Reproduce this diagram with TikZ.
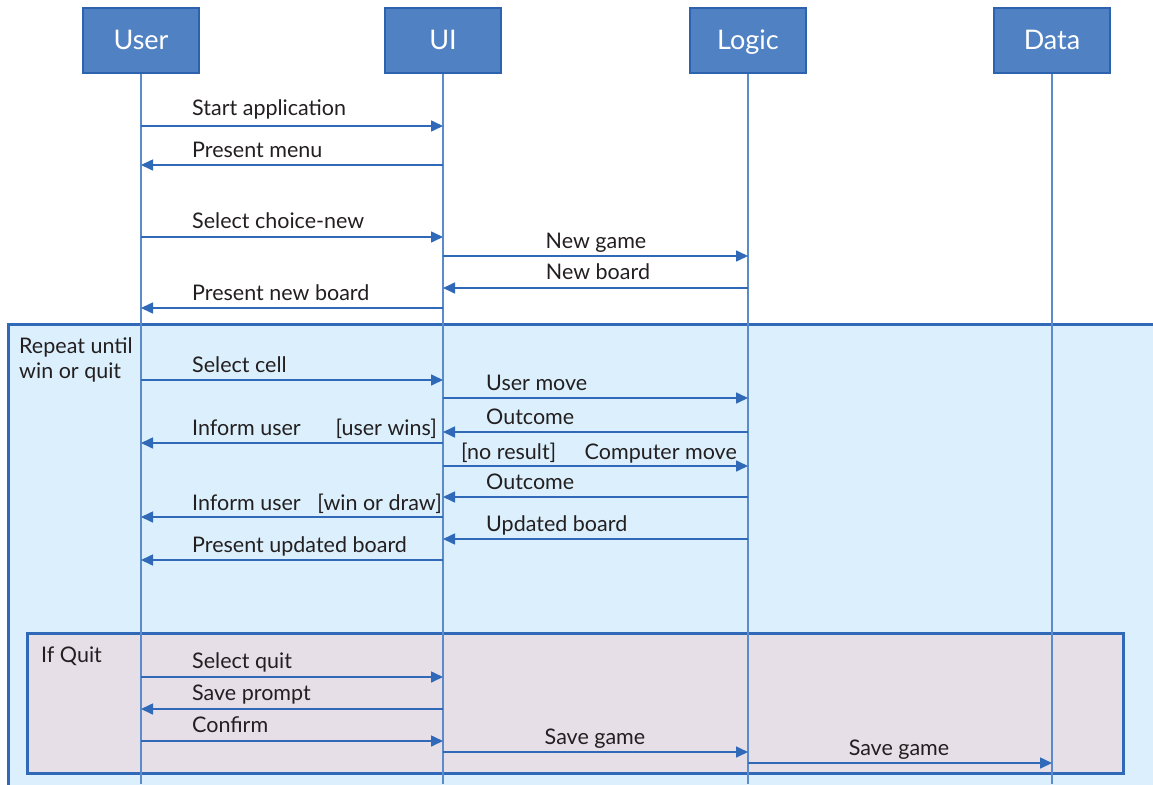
\documentclass[tikz,border=0pt]{standalone}
\usepackage{fontspec}
\setmainfont{Lato}
\usetikzlibrary{arrows.meta}

\definecolor{hdrfill}{HTML}{5081C3}
\definecolor{hdrline}{HTML}{2C62AE}
\definecolor{lifecol}{HTML}{5B8BCB}
\definecolor{msgcol}{HTML}{2F69B7}
\definecolor{loopfill}{HTML}{DBF0FC}
\definecolor{quitfill}{HTML}{E6DFE8}
\definecolor{txtcol}{HTML}{231F20}

\begin{document}
\begin{tikzpicture}[x=1pt,y=-1pt,
  actor/.style={draw=hdrline,line width=2pt,fill=hdrfill,minimum width=116pt,
    minimum height=65pt,text=white,text height=22pt,text depth=5pt,
    font=\fontsize{27}{31}\selectfont},
  life/.style={lifecol,line width=1.5pt},
  msg/.style={msgcol,line width=1.6pt,-{Triangle[length=12pt,width=11pt]}},
  lbl/.style={text=txtcol,font=\fontsize{21.5}{26}\selectfont,inner sep=0pt},
  frame/.style={draw=msgcol,line width=3pt}]

\clip (0,0) rectangle (1153,784);

\draw[frame,fill=loopfill] (8,324) rectangle (1170,800);
\draw[frame,fill=quitfill] (27,633) rectangle (1123,773);

\node[actor] (user) at (141,40.5) {User};
\node[actor] (ui) at (443,40.5) {UI};
\node[actor] (logic) at (748,40.5) {Logic};
\node[actor] (data) at (1052,40.5) {Data};

\draw[life] (user.south) -- (user.south |- 0,784);
\draw[life] (ui.south) -- (ui.south |- 0,784);
\draw[life] (logic.south) -- (logic.south |- 0,784);
\draw[life] (data.south) -- (data.south |- 0,784);

\draw[msg] (user |- 0,126) -- (ui |- 0,126);
\draw[msg] (ui |- 0,165) -- (user |- 0,165);
\draw[msg] (user |- 0,237) -- (ui |- 0,237);
\draw[msg] (ui |- 0,256) -- (logic |- 0,256);
\draw[msg] (logic |- 0,288) -- (ui |- 0,288);
\draw[msg] (ui |- 0,308) -- (user |- 0,308);

\draw[msg] (user |- 0,380) -- (ui |- 0,380);
\draw[msg] (ui |- 0,398) -- (logic |- 0,398);
\draw[msg] (logic |- 0,432) -- (ui |- 0,432);
\draw[msg] (ui |- 0,443) -- (user |- 0,443);
\draw[msg] (ui |- 0,466) -- (logic |- 0,466);
\draw[msg] (logic |- 0,497) -- (ui |- 0,497);
\draw[msg] (ui |- 0,517) -- (user |- 0,517);
\draw[msg] (logic |- 0,539) -- (ui |- 0,539);
\draw[msg] (ui |- 0,560) -- (user |- 0,560);

\draw[msg] (user |- 0,677) -- (ui |- 0,677);
\draw[msg] (ui |- 0,709) -- (user |- 0,709);
\draw[msg] (user |- 0,741) -- (ui |- 0,741);
\draw[msg] (ui |- 0,752) -- (logic |- 0,752);
\draw[msg] (logic |- 0,763) -- (data |- 0,763);

\node[lbl,anchor=base west] (start) at (192,115) {Start application};
\node[lbl,anchor=base west] (menu) at (192,157) {Present menu};
\node[lbl,anchor=base west] (choice) at (192,228) {Select choice-new};
\node[lbl,anchor=base] (newgame) at (596,248) {New game};
\node[lbl,anchor=base] (newboard) at (598,279) {New board};
\node[lbl,anchor=base west] (presnew) at (192,300) {Present new board};

\node[lbl,anchor=base west] (repeat) at (19,353) {Repeat until};
\node[lbl,anchor=base west] (winquit) at (19,378) {win or quit};
\node[lbl,anchor=base west] (cell) at (192,372) {Select cell};
\node[lbl,anchor=base west] (usermove) at (486,390) {User move};
\node[lbl,anchor=base west] (outcome1) at (486,424) {Outcome};
\node[lbl,anchor=base west] (inform1) at (192,435) {Inform user};
\node[lbl,anchor=base east] (userwins) at (437,435) {[user wins]};
\node[lbl,anchor=base west] (noresult) at (461,459) {[no result]};
\node[lbl,anchor=base east] (compmove) at (737,459) {Computer move};
\node[lbl,anchor=base west] (outcome2) at (486,489) {Outcome};
\node[lbl,anchor=base west] (inform2) at (192,510) {Inform user};
\node[lbl,anchor=base east] (windraw) at (442,510) {[win or draw]};
\node[lbl,anchor=base west] (updated) at (486,531) {Updated board};
\node[lbl,anchor=base west] (presupd) at (192,552) {Present updated board};

\node[lbl,anchor=base west] (ifquit) at (41,662) {If Quit};
\node[lbl,anchor=base west] (selquit) at (192,668) {Select quit};
\node[lbl,anchor=base west] (prompt) at (192,700) {Save prompt};
\node[lbl,anchor=base west] (confirm) at (192,732) {Confirm};
\node[lbl,anchor=base] (save1) at (595,744) {Save game};
\node[lbl,anchor=base] (save2) at (899,755) {Save game};

\end{tikzpicture}
\end{document}
